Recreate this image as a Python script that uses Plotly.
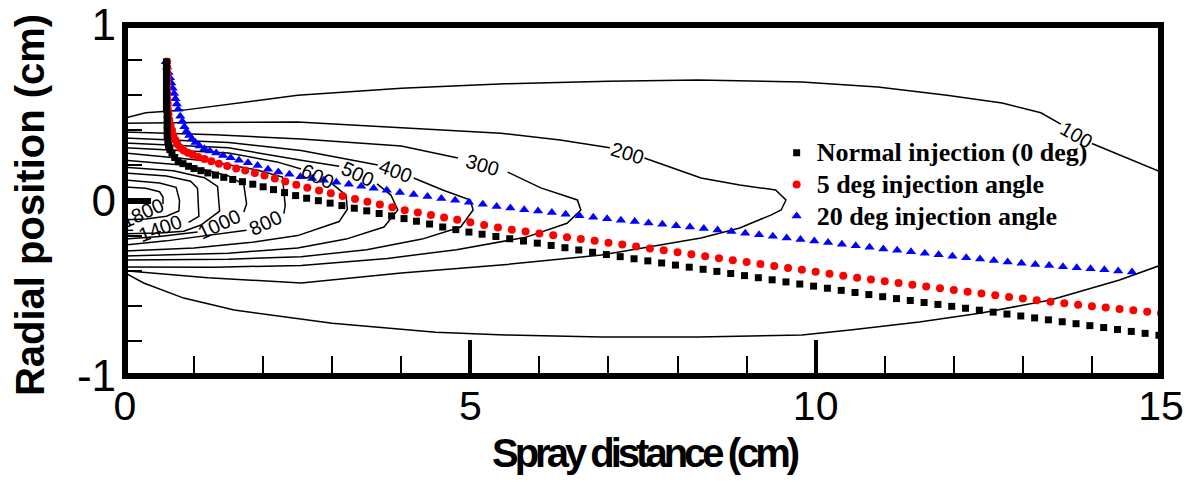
import plotly.graph_objects as go

# ---------------- particle trajectories ----------------
normal_near_x = [0.60, 0.60, 0.60, 0.60, 0.60, 0.60, 0.60, 0.60, 0.60, 0.60, 0.61, 0.61, 0.61, 0.61, 0.61,
                 0.62, 0.63, 0.65, 0.68, 0.72, 0.77, 0.84, 0.92, 1.00, 1.10, 1.20, 1.31, 1.43, 1.56, 1.70,
                 1.85, 2.00, 2.15, 2.31, 2.47, 2.63, 2.80, 2.97, 3.14, 3.32, 3.50, 3.68, 3.86, 4.04]
normal_near_y = [0.79, 0.76, 0.73, 0.70, 0.67, 0.64, 0.61, 0.58, 0.55, 0.52, 0.49, 0.46, 0.43, 0.40, 0.37,
                 0.34, 0.315, 0.29, 0.27, 0.245, 0.225, 0.21, 0.195, 0.182, 0.17, 0.157, 0.145, 0.132, 0.12,
                 0.107, 0.093, 0.078, 0.062, 0.045, 0.028, 0.013, -0.001, -0.015, -0.029, -0.044, -0.059,
                 -0.074, -0.088, -0.103]
normal_far_x = [4.22, 4.41, 4.60, 4.79, 4.98, 5.17, 5.37, 5.57, 5.77, 5.97, 6.17, 6.37, 6.57, 6.77, 6.97,
                7.17, 7.37, 7.57, 7.77, 7.97, 8.17, 8.37, 8.57, 8.77, 8.97, 9.17, 9.37, 9.57, 9.77, 9.97,
                10.17, 10.37, 10.57, 10.77, 10.97, 11.17, 11.37, 11.57, 11.77, 11.97, 12.17, 12.37, 12.57,
                12.77, 12.97, 13.17, 13.37, 13.57, 13.77, 13.97, 14.17, 14.37, 14.57, 14.77, 14.97]
normal_far_y = [-0.118, -0.134, -0.151, -0.166, -0.180, -0.192, -0.205, -0.218, -0.231, -0.243, -0.256,
                -0.269, -0.282, -0.295, -0.308, -0.320, -0.332, -0.344, -0.356, -0.368, -0.380, -0.392,
                -0.404, -0.416, -0.428, -0.440, -0.452, -0.464, -0.476, -0.488, -0.500, -0.512, -0.524,
                -0.536, -0.548, -0.559, -0.570, -0.581, -0.592, -0.603, -0.614, -0.625, -0.636, -0.647,
                -0.658, -0.669, -0.680, -0.691, -0.702, -0.713, -0.724, -0.735, -0.746, -0.757, -0.768]

deg5_near_x = [0.61, 0.61, 0.61, 0.61, 0.61, 0.61, 0.61, 0.61, 0.62, 0.62, 0.63, 0.64, 0.66, 0.68, 0.70,
               0.73, 0.76, 0.80, 0.85, 0.91, 0.98, 1.06, 1.15, 1.25, 1.36, 1.48, 1.61, 1.74, 1.88, 2.02,
               2.17, 2.32, 2.48, 2.64, 2.81, 2.98, 3.15, 3.33, 3.51, 3.69, 3.87, 4.05]
deg5_near_y = [0.79, 0.76, 0.73, 0.70, 0.67, 0.64, 0.61, 0.58, 0.55, 0.52, 0.49, 0.46, 0.43, 0.40, 0.37,
               0.345, 0.32, 0.30, 0.285, 0.272, 0.26, 0.248, 0.236, 0.223, 0.21, 0.197, 0.183, 0.171,
               0.157, 0.142, 0.126, 0.108, 0.09, 0.073, 0.057, 0.041, 0.025, 0.009, -0.007, -0.023,
               -0.039, -0.055]
deg5_far_x = [4.24, 4.43, 4.62, 4.81, 5.00, 5.20, 5.40, 5.60, 5.80, 6.00, 6.20, 6.40, 6.60, 6.80, 7.00,
              7.20, 7.40, 7.60, 7.80, 8.00, 8.20, 8.40, 8.60, 8.80, 9.00, 9.20, 9.40, 9.60, 9.80, 10.00,
              10.20, 10.40, 10.60, 10.80, 11.00, 11.20, 11.40, 11.60, 11.80, 12.00, 12.20, 12.40, 12.60,
              12.80, 13.00, 13.20, 13.40, 13.60, 13.80, 14.00, 14.20, 14.40, 14.60, 14.80, 15.00]
deg5_far_y = [-0.069, -0.083, -0.097, -0.110, -0.124, -0.139, -0.154, -0.166, -0.177, -0.188, -0.198,
              -0.209, -0.220, -0.230, -0.241, -0.251, -0.262, -0.273, -0.284, -0.295, -0.306, -0.318,
              -0.329, -0.340, -0.351, -0.362, -0.373, -0.384, -0.395, -0.406, -0.418, -0.429, -0.440,
              -0.450, -0.460, -0.470, -0.480, -0.490, -0.500, -0.510, -0.520, -0.530, -0.540, -0.550,
              -0.559, -0.568, -0.577, -0.586, -0.594, -0.602, -0.610, -0.618, -0.626, -0.634, -0.642]

deg20_near_x = [0.59, 0.61, 0.63, 0.65, 0.67, 0.69, 0.71, 0.73, 0.75, 0.77, 0.80, 0.83, 0.86, 0.89, 0.93,
                0.97, 1.02, 1.08, 1.15, 1.23, 1.32, 1.42, 1.53, 1.65, 1.78, 1.92, 2.07, 2.22, 2.38, 2.54,
                2.71, 2.88, 3.06, 3.24, 3.42, 3.60, 3.79, 3.98]
deg20_near_y = [0.79, 0.76, 0.73, 0.70, 0.67, 0.64, 0.61, 0.58, 0.55, 0.52, 0.48, 0.45, 0.42, 0.395, 0.37,
                0.35, 0.33, 0.31, 0.295, 0.282, 0.27, 0.256, 0.243, 0.23, 0.215, 0.20, 0.178, 0.163,
                0.149, 0.136, 0.125, 0.115, 0.104, 0.093, 0.081, 0.07, 0.058, 0.046]
deg20_far_x = [4.18, 4.38, 4.58, 4.78, 4.98, 5.18, 5.38, 5.58, 5.78, 5.98, 6.18, 6.38, 6.58, 6.78, 6.98,
               7.18, 7.38, 7.58, 7.78, 7.98, 8.18, 8.38, 8.58, 8.78, 8.98, 9.18, 9.38, 9.58, 9.78, 9.98,
               10.18, 10.38, 10.58, 10.78, 10.98, 11.18, 11.38, 11.58, 11.78, 11.98, 12.18, 12.38, 12.58,
               12.78, 12.98, 13.18, 13.38, 13.58, 13.78, 13.98, 14.18, 14.38, 14.58]
deg20_far_y = [0.034, 0.023, 0.012, 0.001, -0.010, -0.022, -0.034, -0.043, -0.052, -0.060, -0.069, -0.078,
               -0.087, -0.095, -0.104, -0.112, -0.120, -0.128, -0.136, -0.144, -0.151, -0.159, -0.168,
               -0.177, -0.186, -0.195, -0.204, -0.213, -0.222, -0.231, -0.240, -0.249, -0.258, -0.267,
               -0.276, -0.284, -0.292, -0.300, -0.309, -0.317, -0.326, -0.334, -0.342, -0.350, -0.358,
               -0.365, -0.371, -0.377, -0.383, -0.389, -0.395, -0.401, -0.407]

series_names = ["Normal injection (0 deg)", "5 deg injection angle", "20 deg injection angle"]

# ---------------- temperature isolines (None = break at inline label / between branches) ----------------
iso_100_x = [0, 0.3, 0.85, 2.5, 4.0, 5.5, 7.0, 8.3, 9.8, 10.9, 11.9, 12.7, 13.26, 13.55, None, 14.0, 15.0,
             None, 0, 0.27, 0.85, 1.58, 3.0, 4.5, 5.5, 6.9, 8.3, 9.8, 10.5, 11.5, 12.4, 13.4, 14.4, 15.0]
iso_100_y = [0.47, 0.50, 0.515, 0.60, 0.64, 0.665, 0.68, 0.687, 0.675, 0.647, 0.60, 0.556, 0.50, 0.435, None,
             0.325, 0.162,
             None, -0.413, -0.47, -0.556, -0.624, -0.70, -0.75, -0.766, -0.778, -0.778, -0.766, -0.738,
             -0.692, -0.641, -0.567, -0.453, -0.368]
iso_200_x = [0, 1.0, 2.5, 4.0, 5.44, 6.3, 7.02, None, 7.52, 8.34, 8.9, 9.42, 9.57, 9.5, 9.35, 8.9, 8.34,
             6.9, 5.44, 4.0, 2.55, 1.2, 0]
iso_200_y = [0.44, 0.445, 0.447, 0.415, 0.383, 0.345, 0.30, None, 0.242, 0.128, 0.088, 0.06, 0.003, -0.054,
             -0.083, -0.157, -0.214, -0.311, -0.368, -0.413, -0.47, -0.44, -0.40]
iso_300_x = [0, 1.3, 2.55, 4.0, 4.82, None, 5.54, 6.02, 6.55, 6.6, 6.4, 5.8, 4.8, 3.8, 2.55, 1.3, 0]
iso_300_y = [0.39, 0.375, 0.35, 0.31, 0.242, None, 0.162, 0.072, 0.003, -0.054, -0.13, -0.21, -0.28, -0.33,
             -0.37, -0.38, -0.379]
iso_400_x = [0, 1.5, 2.55, 3.66, None, 4.18, 4.6, 5.0, 5.04, 4.86, 4.3, 3.5, 2.55, 1.5, 0]
iso_400_y = [0.356, 0.33, 0.285, 0.202, None, 0.128, 0.06, 0.003, -0.054, -0.151, -0.22, -0.28, -0.32,
             -0.335, -0.339]
iso_500_x = [0, 1.5, 2.55, 3.1, None, 3.65, 3.85, 3.95, 3.75, 3.2, 2.5, 1.5, 0]
iso_500_y = [0.328, 0.30, 0.23, 0.195, None, 0.095, 0.031, -0.054, -0.151, -0.22, -0.27, -0.30, -0.316]
iso_600_x = [0, 1.5, 2.2, 2.55, None, 3.0, 3.2, 3.22, 3.1, 2.5, 1.8, 1.0, 0]
iso_600_y = [0.30, 0.27, 0.22, 0.18, None, 0.095, 0.03, -0.05, -0.12, -0.20, -0.24, -0.27, -0.288]
iso_800_x = [0, 1.2, 1.9, 2.28, 2.32, 2.3, None, 1.76, 1.2, 0.6, 0]
iso_800_y = [0.27, 0.225, 0.175, 0.134, -0.03, -0.075, None, -0.17, -0.2, -0.23, -0.254]
iso_1000_x = [0, 0.9, 1.5, 1.72, 1.76, 1.72, None, 1.05, 0.5, 0]
iso_1000_y = [0.23, 0.2, 0.14, 0.09, -0.02, -0.065, None, -0.18, -0.205, -0.219]
iso_1200_x = [0, 0.7, 1.15, 1.34, 1.37, 1.1, 0.85, 0.5, 0]
iso_1200_y = [0.19, 0.17, 0.13, 0.08, -0.06, -0.14, -0.175, -0.185, -0.19]
iso_1400_x = [0, 0.6, 0.95, 1.05, 1.07, 0.92, None, 0.12, 0]
iso_1400_y = [0.157, 0.14, 0.11, 0.07, -0.09, -0.125, None, -0.17, -0.17]
iso_1600_x = [0, 0.5, 0.74, 0.79, 0.78, 0.6, 0.3, 0]
iso_1600_y = [0.117, 0.1, 0.075, 0.0, -0.06, -0.09, -0.105, -0.11]
iso_1800_x = [0, 0.3, 0.5, 0.55, 0.55]
iso_1800_y = [0.077, 0.07, 0.05, 0.02, -0.02]

iso_label_text = ["100", "200", "300", "400", "500", "600", "800", "1000", "1400", "1800"]
iso_label_x = [13.78, 7.27, 5.18, 3.92, 3.37, 2.78, 2.03, 1.37, 0.52, 0.25]
iso_label_y = [0.375, 0.272, 0.205, 0.17, 0.15, 0.14, -0.13, -0.135, -0.158, -0.07]
iso_label_angle = [30, 17, 16, 20, 25, 25, -25, -25, -20, -25]

fig = go.Figure()

iso_lines = [(iso_100_x, iso_100_y), (iso_200_x, iso_200_y), (iso_300_x, iso_300_y),
             (iso_400_x, iso_400_y), (iso_500_x, iso_500_y), (iso_600_x, iso_600_y),
             (iso_800_x, iso_800_y), (iso_1000_x, iso_1000_y), (iso_1200_x, iso_1200_y),
             (iso_1400_x, iso_1400_y), (iso_1600_x, iso_1600_y), (iso_1800_x, iso_1800_y)]
for xs, ys in iso_lines:
    fig.add_trace(go.Scatter(x=xs, y=ys, mode="lines", line=dict(color="black", width=1.5),
                             showlegend=False, hoverinfo="skip"))

legend_span = '<span style="font-size:26px"><b>{}</b></span>'

fig.add_trace(go.Scatter(x=deg20_near_x + deg20_far_x, y=deg20_near_y + deg20_far_y, mode="markers",
                         name=legend_span.format(series_names[2]), legendrank=3,
                         marker=dict(symbol="triangle-up", size=9, color="#0000ff")))
fig.add_trace(go.Scatter(x=deg5_near_x + deg5_far_x, y=deg5_near_y + deg5_far_y, mode="markers",
                         name=legend_span.format(series_names[1]), legendrank=2,
                         marker=dict(symbol="circle", size=8, color="#ff0000")))
fig.add_trace(go.Scatter(x=normal_near_x + normal_far_x, y=normal_near_y + normal_far_y, mode="markers",
                         name=legend_span.format(series_names[0]), legendrank=1,
                         marker=dict(symbol="square", size=7, color="black")))

for t, lx, ly, ang in zip(iso_label_text, iso_label_x, iso_label_y, iso_label_angle):
    fig.add_annotation(x=lx, y=ly, xref="x", yref="y", text=t, showarrow=False, textangle=ang,
                       font=dict(family="Liberation Sans, Arial", size=20, color="black"))

# axis titles
fig.add_annotation(x=0.502, y=-0.219, xref="paper", yref="paper", xanchor="center", yanchor="middle",
                   text='<span style="letter-spacing:-4px"><b>Spray distance (cm)</b></span>',
                   showarrow=False, font=dict(family="Liberation Sans, Arial", size=40, color="black"))
fig.add_annotation(x=-0.0917, y=0.487, xref="paper", yref="paper", xanchor="center", yanchor="middle",
                   text="<b>Radial position (cm)</b>", showarrow=False, textangle=-90,
                   font=dict(family="Liberation Sans, Arial", size=40, color="black"))

# heavy frame
fig.add_shape(type="rect", xref="paper", yref="paper", x0=0, y0=0, x1=1, y1=1,
              line=dict(color="black", width=6), layer="above")

fig.update_layout(
    width=1196, height=482,
    margin=dict(l=125, r=35, t=25, b=106),
    paper_bgcolor="white", plot_bgcolor="white",
    legend=dict(x=0.629, y=0.695, xanchor="left", yanchor="top", bgcolor="rgba(0,0,0,0)",
                font=dict(family="Liberation Serif, Times New Roman", size=22, color="black")),
    xaxis=dict(range=[0, 15], showgrid=False, zeroline=False, showline=False, automargin=False,
               ticks="inside", ticklen=36, tickwidth=4, tickcolor="black", tick0=0, dtick=5,
               minor=dict(ticks="inside", ticklen=20, tickwidth=1.5, tickcolor="black", dtick=1,
                          showgrid=False),
               ticklabelstandoff=2, ticklabeloverflow="allow",
               tickfont=dict(family="Liberation Sans, Arial", size=41, color="black")),
    yaxis=dict(range=[-1, 1], showgrid=False, zeroline=False, showline=False, automargin=False,
               ticks="inside", ticklen=26, tickwidth=6, tickcolor="black",
               tickvals=[-1, 0, 1], ticktext=["-1", "0", "1"],
               minor=dict(ticks="inside", ticklen=17, tickwidth=2, tickcolor="black", dtick=0.2,
                          showgrid=False),
               ticklabelstandoff=8, ticklabeloverflow="allow",
               tickfont=dict(family="Liberation Sans, Arial", size=44, color="black")),
)

fig.write_html("out.html")
